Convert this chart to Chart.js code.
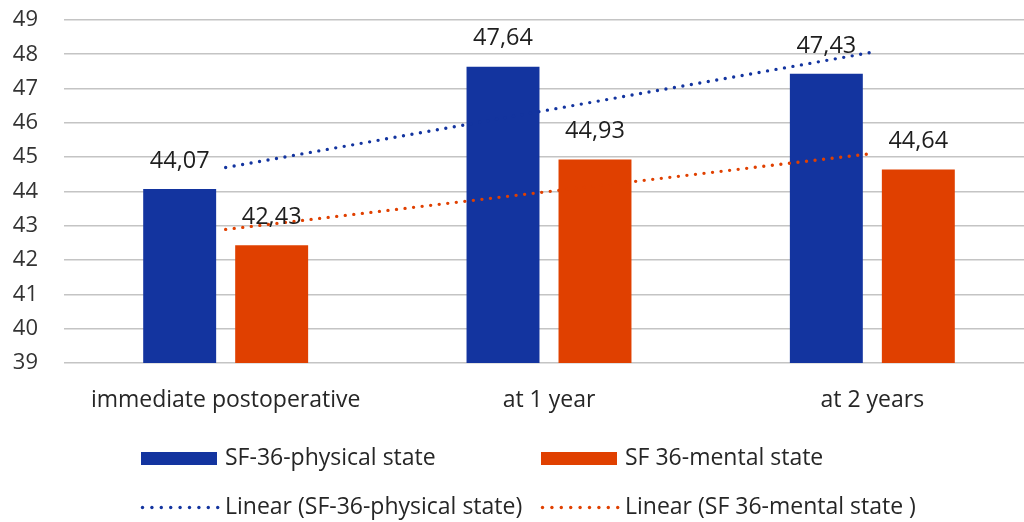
<!DOCTYPE html>
<html>
<head>
<meta charset="utf-8">
<script src="https://cdn.jsdelivr.net/npm/chart.js@4"></script>
<style>
  html, body { margin: 0; padding: 0; background: #fff; }
  #wrap { position: relative; width: 1024px; height: 522px; overflow: hidden; }
  #c { position: absolute; left: 0; top: 0; }
</style>
</head>
<body>
<div id="wrap"><canvas id="c" width="1040" height="522"></canvas></div>
<script>
// Survey periods and SF-36 scores
const categories = ['immediate postoperative', 'at 1 year', 'at 2 years'];
const physicalScores = [44.07, 47.64, 47.43];
const mentalScores = [42.43, 44.93, 44.64];
const yTicks = [39, 40, 41, 42, 43, 44, 45, 46, 47, 48, 49];

const seriesNames = ['SF-36-physical state', 'SF 36-mental state'];
const trendNames = ['Linear (SF-36-physical state)', 'Linear (SF 36-mental state )'];

const BLUE = '#13349F';
const ORANGE = '#E04000';
const FONT = '"Open Sans", "Noto Sans", sans-serif';

// Least-squares line over x = 1..n, evaluated at each category
function linearTrend(values) {
  const n = values.length;
  const xs = values.map((_, i) => i + 1);
  const mx = xs.reduce((a, b) => a + b, 0) / n;
  const my = values.reduce((a, b) => a + b, 0) / n;
  let num = 0, den = 0;
  xs.forEach((x, i) => { num += (x - mx) * (values[i] - my); den += (x - mx) * (x - mx); });
  const slope = num / den;
  return xs.map(x => my + slope * (x - mx));
}

const fmt = v => v.toFixed(2).replace('.', ',');

// Value labels above each bar
const barLabels = {
  id: 'barLabels',
  afterDatasetsDraw(chart) {
    const ctx = chart.ctx;
    ctx.save();
    ctx.font = '23.5px ' + FONT;
    ctx.fillStyle = '#1e1e1e';
    ctx.textAlign = 'center';
    ctx.textBaseline = 'middle';
    chart.data.datasets.forEach((ds, di) => {
      if (ds.type !== 'bar') return;
      chart.getDatasetMeta(di).data.forEach((bar, i) => {
        ctx.fillText(fmt(ds.data[i]), bar.x, bar.y - 28);
      });
    });
    ctx.restore();
  }
};

// Two-column legend: filled swatches on the first row, dotted trend lines on the second
const gridLegend = {
  id: 'gridLegend',
  afterDraw(chart) {
    const ctx = chart.ctx;
    const cols = [141, 541];
    const rows = [458.5, 507.5];
    ctx.save();
    ctx.font = '23px ' + FONT;
    ctx.textBaseline = 'middle';
    ctx.textAlign = 'left';
    const ds = chart.data.datasets;
    const bars = ds.filter(d => d.type === 'bar');
    const lines = ds.filter(d => d.type === 'line');
    bars.forEach((d, i) => {
      ctx.fillStyle = d.backgroundColor;
      ctx.fillRect(cols[i], rows[0] - 6.5, 76, 13);
      ctx.fillStyle = '#262626';
      ctx.fillText(d.label, cols[i] + 84, rows[0]);
    });
    lines.forEach((d, i) => {
      ctx.fillStyle = d.borderColor;
      for (let k = 0; k < 9; k++) {
        ctx.beginPath();
        ctx.arc(cols[i] + 1.5 + k * 9.4, rows[1], 1.7, 0, Math.PI * 2);
        ctx.fill();
      }
      ctx.fillStyle = '#262626';
      ctx.fillText(d.label, cols[i] + 84, rows[1]);
    });
    ctx.restore();
  }
};

const dotted = {
  type: 'line',
  borderWidth: 3.4,
  borderDash: [0, 8.6],
  borderCapStyle: 'round',
  pointRadius: 0,
  fill: false,
  tension: 0,
  order: 0
};

new Chart(document.getElementById('c'), {
  type: 'bar',
  data: {
    labels: categories,
    datasets: [
      Object.assign({}, dotted, { label: trendNames[0], data: linearTrend(physicalScores), borderColor: BLUE }),
      Object.assign({}, dotted, { label: trendNames[1], data: linearTrend(mentalScores), borderColor: ORANGE }),
      { type: 'bar', label: seriesNames[0], data: physicalScores, backgroundColor: BLUE, order: 1 },
      { type: 'bar', label: seriesNames[1], data: mentalScores, backgroundColor: ORANGE, order: 1 }
    ]
  },
  options: {
    responsive: false,
    devicePixelRatio: 1,
    animation: false,
    categoryPercentage: 0.569,
    barPercentage: 0.793,
    layout: { padding: { left: 12, right: 6, top: 20, bottom: 100 } },
    plugins: { legend: { display: false }, tooltip: { enabled: false } },
    scales: {
      x: {
        grid: { display: false },
        border: { display: false },
        ticks: { color: '#262626', font: { family: FONT, size: 23 }, padding: 16, maxRotation: 0, autoSkip: false },
        afterFit(scale) { scale.height = 59; }
      },
      y: {
        min: yTicks[0],
        max: yTicks[yTicks.length - 1],
        afterBuildTicks(scale) { scale.ticks = yTicks.map(v => ({ value: v })); },
        grid: { color: '#c4c4c4', lineWidth: 1.6, drawTicks: false },
        border: { display: false },
        ticks: { color: '#333', font: { family: FONT, size: 22 }, padding: 26, autoSkip: false },
        afterFit(scale) {
          scale.width = 52;
          scale.paddingTop = 0;
          scale.paddingBottom = 0;
        }
      }
    }
  },
  plugins: [barLabels, gridLegend]
});
</script>
</body>
</html>
